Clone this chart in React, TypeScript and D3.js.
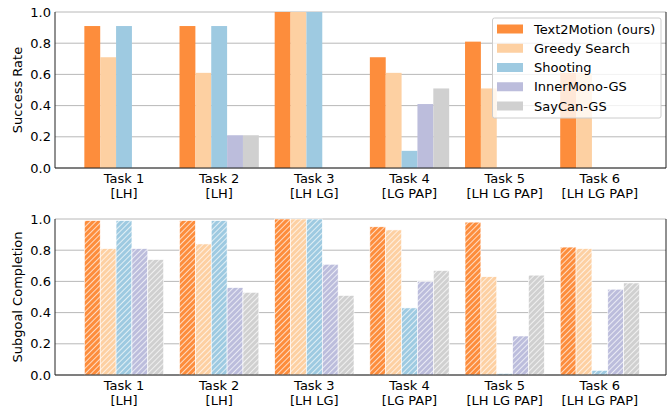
import React, { useEffect, useRef } from 'react';
import * as d3 from 'd3';

const tasks = ['Task 1', 'Task 2', 'Task 3', 'Task 4', 'Task 5', 'Task 6'];
const subtasks = ['[LH]', '[LH]', '[LH LG]', '[LG PAP]', '[LH LG PAP]', '[LH LG PAP]'];
const methods = ['Text2Motion (ours)', 'Greedy Search', 'Shooting', 'InnerMono-GS', 'SayCan-GS'];
const colors = ['#fd8d3c', '#fdd0a2', '#9ecae1', '#bcbddc', '#d0d0d0'];

// success rate, one array per method (tasks 1-6)
const successT2M = [0.91, 0.91, 1.0, 0.71, 0.81, 0.61];
const successGreedy = [0.71, 0.61, 1.0, 0.61, 0.51, 0.61];
const successShooting = [0.91, 0.91, 1.0, 0.11, 0.0, 0.0];
const successInner = [0.0, 0.21, 0.0, 0.41, 0.0, 0.0];
const successSayCan = [0.0, 0.21, 0.0, 0.51, 0.0, 0.0];

// subgoal completion
const subgoalT2M = [0.99, 0.99, 1.0, 0.95, 0.98, 0.82];
const subgoalGreedy = [0.81, 0.84, 1.0, 0.93, 0.63, 0.81];
const subgoalShooting = [0.99, 0.99, 1.0, 0.43, 0.01, 0.03];
const subgoalInner = [0.81, 0.56, 0.71, 0.6, 0.25, 0.55];
const subgoalSayCan = [0.74, 0.53, 0.51, 0.67, 0.64, 0.59];

const yTicks = [0, 0.2, 0.4, 0.6, 0.8, 1.0];

const App = () => {
  const ref = useRef<SVGSVGElement>(null);

  useEffect(() => {
    const svg = d3.select(ref.current);
    svg.selectAll('*').remove();
    const font = 'DejaVu Sans';
    const fs = 13;

    const defs = svg.append('defs');
    colors.forEach((c, i) => {
      const p = defs.append('pattern')
        .attr('id', `hatch${i}`)
        .attr('patternUnits', 'userSpaceOnUse')
        .attr('width', 4)
        .attr('height', 4)
        .attr('patternTransform', 'rotate(45)');
      p.append('rect').attr('width', 4).attr('height', 4).attr('fill', c);
      p.append('line')
        .attr('x1', 0).attr('y1', 0).attr('x2', 0).attr('y2', 4)
        .attr('stroke', 'white').attr('stroke-width', 1.4);
    });

    const x = d3.scaleLinear().domain([-0.725, 5.695]).range([55, 666]);
    const bw = 1 / 6;

    const panels = [
      { top: 12, bottom: 168, label: 'Success Rate', hatch: false,
        series: [successT2M, successGreedy, successShooting, successInner, successSayCan] },
      { top: 219, bottom: 375, label: 'Subgoal Completion', hatch: true,
        series: [subgoalT2M, subgoalGreedy, subgoalShooting, subgoalInner, subgoalSayCan] },
    ];

    panels.forEach(panel => {
      const y = d3.scaleLinear().domain([0, 1]).range([panel.bottom, panel.top]);
      const g = svg.append('g');

      // grid
      g.selectAll('.grid')
        .data(yTicks)
        .enter()
        .append('line')
        .attr('x1', x.range()[0]).attr('x2', x.range()[1])
        .attr('y1', d => y(d)).attr('y2', d => y(d))
        .attr('stroke', '#b0b0b0')
        .attr('stroke-width', 0.9);

      // bars
      panel.series.forEach((vals, j) => {
        g.selectAll(`.bar${j}`)
          .data(vals)
          .enter()
          .append('rect')
          .attr('x', (d, i) => x(i + (j - 2.5) * bw))
          .attr('y', d => y(d))
          .attr('width', x(bw) - x(0))
          .attr('height', d => y(0) - y(d))
          .attr('fill', panel.hatch ? `url(#hatch${j})` : colors[j])
          .attr('stroke', panel.hatch ? 'white' : 'none')
          .attr('stroke-width', 0.6);
      });

      // spines
      const [x0, x1] = x.range();
      g.append('path')
        .attr('d', `M${x0},${panel.top}V${panel.bottom}H${x1}V${panel.top}`)
        .attr('fill', 'none')
        .attr('stroke', '#222')
        .attr('stroke-width', 1);

      // y tick labels
      g.selectAll('.ytick')
        .data(yTicks)
        .enter()
        .append('text')
        .attr('x', 51)
        .attr('y', d => y(d))
        .attr('dy', '0.36em')
        .attr('text-anchor', 'end')
        .attr('font-family', font)
        .attr('font-size', fs)
        .text(d => d3.format('.1f')(d));

      // x tick labels
      tasks.forEach((t, i) => {
        const tx = g.append('text')
          .attr('x', x(i))
          .attr('y', panel.bottom + 15)
          .attr('text-anchor', 'middle')
          .attr('font-family', font)
          .attr('font-size', fs);
        tx.append('tspan').attr('x', x(i)).text(t);
        tx.append('tspan').attr('x', x(i)).attr('dy', 14.8).text(subtasks[i]);
      });

      // y label
      g.append('text')
        .attr('transform', `translate(21.5,${(panel.top + panel.bottom) / 2}) rotate(-90)`)
        .attr('text-anchor', 'middle')
        .attr('font-family', font)
        .attr('font-size', fs)
        .text(panel.label);
    });

    // legend
    const lg = svg.append('g').attr('transform', 'translate(492.5,18)');
    lg.append('rect')
      .attr('width', 168.5).attr('height', 100)
      .attr('rx', 2)
      .attr('fill', 'white').attr('fill-opacity', 0.8)
      .attr('stroke', '#cccccc').attr('stroke-width', 1);
    methods.forEach((m, i) => {
      const cy = 11 + i * 19.25;
      lg.append('rect')
        .attr('x', 4.5).attr('y', cy - 4.5)
        .attr('width', 26).attr('height', 9)
        .attr('fill', colors[i]);
      lg.append('text')
        .attr('x', 41.5).attr('y', cy)
        .attr('dy', '0.36em')
        .attr('font-family', font)
        .attr('font-size', fs)
        .text(m);
    });
  }, []);

  return (
    <svg ref={ref} width={670} height={407}
      style={{ position: 'absolute', left: 0, top: 0, background: 'white' }} />
  );
};

export default App;
